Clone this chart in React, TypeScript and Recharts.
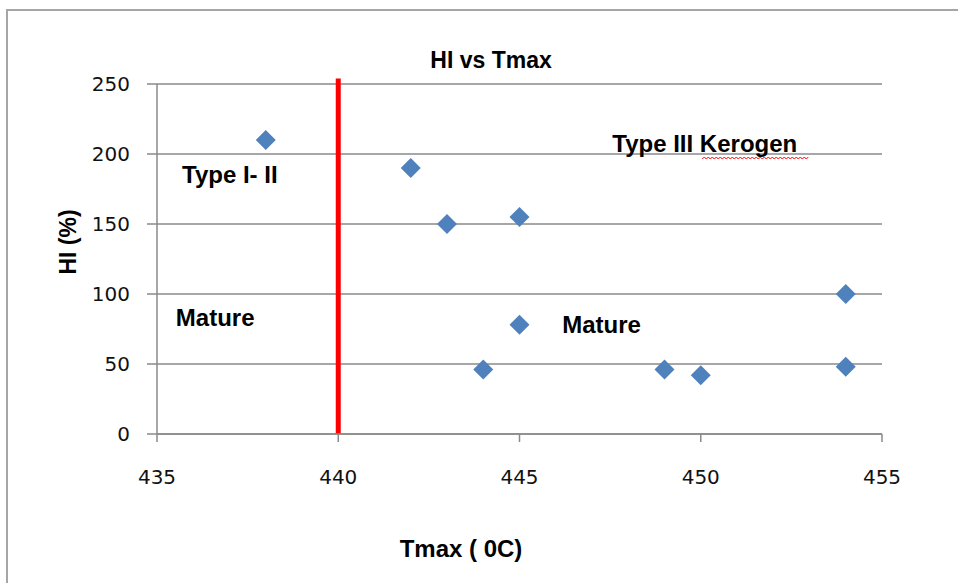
import React from 'react';
import { ScatterChart, Scatter, XAxis, YAxis, CartesianGrid, ReferenceLine } from 'recharts';

const tmaxValues = [438, 442, 443, 445, 445, 444, 449, 450, 454, 454];
const hiValues = [210, 190, 150, 155, 78, 46, 46, 42, 100, 48];
const xTicks = [435, 440, 445, 450, 455];
const yTicks = [0, 50, 100, 150, 200, 250];
const maturityTmax = 440;
const maturityLineTop = 254;
const annotationLabels = ['Type I- II', 'Mature', 'Type III Kerogen', 'Mature'];
const annotationTmax = [435.69, 435.52, 447.56, 446.18];
const annotationHI = [179.3, 77.1, 201.4, 72.1];
const chartTitle = 'HI vs Tmax';
const xTitle = 'Tmax ( 0C)';
const yTitle = 'HI (%)';

const points = tmaxValues.map((x, i) => ({ x, y: hiValues[i] }));
const annotations = annotationLabels.map((label, i) => ({ x: annotationTmax[i], y: annotationHI[i], label }));

const BOLD = '"Liberation Sans", Arial, sans-serif';
const TICKFONT = '"DejaVu Sans", Verdana, sans-serif';
const GRID = '#8a8a8a';

const Diamond = (props: any) => {
  const { cx, cy } = props;
  const r = 10;
  return <polygon points={`${cx},${cy - r} ${cx + r},${cy} ${cx},${cy + r} ${cx - r},${cy}`} fill="#4f81bd" />;
};

const wavyPath = (x0: number, x1: number, y: number) => {
  let d = `M${x0},${y}`;
  let up = true;
  for (let x = x0 + 2; x <= x1; x += 2) {
    d += ` L${x},${up ? y - 2 : y}`;
    up = !up;
  }
  return d;
};

const AnnotationText = (props: any) => {
  const { cx, cy, payload } = props;
  const label: string = payload.label;
  return (
    <g>
      <text x={cx} y={cy} fontFamily={BOLD} fontWeight="bold" fontSize={24} fill="#000">
        {label}
      </text>
      {label === 'Type III Kerogen' ? (
        <path d={wavyPath(cx + 90, cx + 196, cy + 7)} stroke="#ff0000" strokeWidth={1} fill="none" />
      ) : null}
    </g>
  );
};

export default function App() {
  return (
    <div style={{ position: 'absolute', left: 0, top: 0, width: 958, height: 583, overflow: 'hidden', background: '#fff' }}>
      <div style={{ position: 'absolute', left: 6, top: 9, width: 2000, height: 2000, border: '2px solid #a6a6a6' }} />
      <div style={{ position: 'absolute', left: 0, top: 0 }}>
        <ScatterChart width={958} height={583} margin={{ top: 84, right: 76, bottom: 0, left: 0 }}>
          <CartesianGrid vertical={false} stroke={GRID} strokeWidth={1.5} horizontalValues={yTicks} />
          <XAxis
            type="number"
            dataKey="x"
            domain={[435, 455]}
            ticks={xTicks}
            interval={0}
            allowDataOverflow
            height={149}
            tickSize={8}
            tickMargin={28}
            axisLine={{ stroke: GRID, strokeWidth: 1.5 }}
            tickLine={{ stroke: GRID, strokeWidth: 1.5 }}
            tick={{ fontFamily: TICKFONT, fontSize: 20, fill: '#111' }}
          />
          <YAxis
            type="number"
            dataKey="y"
            domain={[0, 250]}
            ticks={yTicks}
            interval={0}
            allowDataOverflow
            width={157}
            tickSize={10}
            tickMargin={17}
            axisLine={{ stroke: GRID, strokeWidth: 1.5 }}
            tickLine={{ stroke: GRID, strokeWidth: 1.5 }}
            tick={{ fontFamily: TICKFONT, fontSize: 20, fill: '#111' }}
          />
          <ReferenceLine
            segment={[{ x: maturityTmax, y: 0 }, { x: maturityTmax, y: maturityLineTop }]}
            stroke="#ff0000"
            strokeWidth={5}
            ifOverflow="visible"
          />
          <Scatter data={points} shape={Diamond} isAnimationActive={false} />
          <Scatter data={annotations} shape={AnnotationText} isAnimationActive={false} />
        </ScatterChart>
      </div>
      <svg width={958} height={583} style={{ position: 'absolute', left: 0, top: 0, pointerEvents: 'none' }}>
        <text x={491} y={68} textAnchor="middle" fontFamily={BOLD} fontWeight="bold" fontSize={23} fill="#000">
          {chartTitle}
        </text>
        <text x={461} y={557} textAnchor="middle" fontFamily={BOLD} fontWeight="bold" fontSize={24} fill="#000">
          {xTitle}
        </text>
        <text
          x={0}
          y={0}
          transform="translate(76,242) rotate(-90)"
          textAnchor="middle"
          fontFamily={BOLD}
          fontWeight="bold"
          fontSize={23}
          fill="#000"
        >
          {yTitle}
        </text>
      </svg>
    </div>
  );
}
